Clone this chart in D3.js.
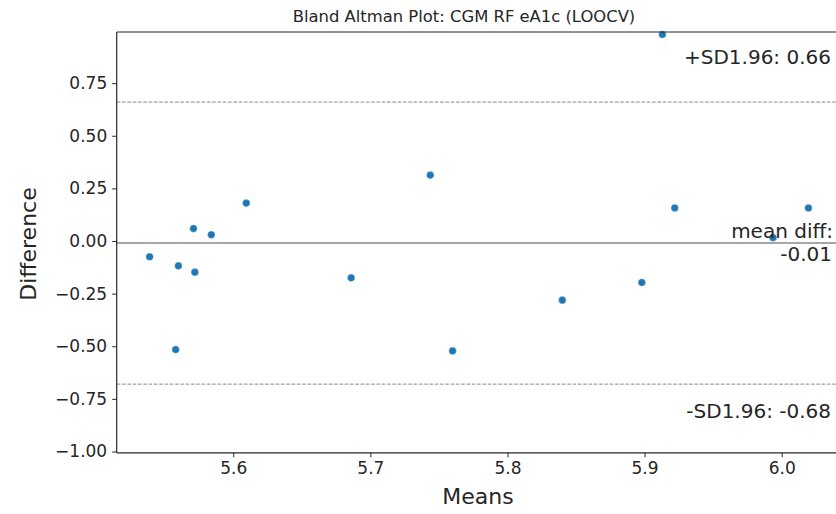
<!DOCTYPE html>
<html>
<head>
<meta charset="utf-8">
<script src="https://cdn.jsdelivr.net/npm/d3@7"></script>
<style>
  html, body { margin: 0; padding: 0; background: #ffffff; }
  svg { display: block; font-family: "DejaVu Sans", sans-serif; }
</style>
</head>
<body>
<svg id="chart" width="836" height="514"></svg>
<script>
// ---- data ----
const means = [5.539, 5.558, 5.560, 5.571, 5.572, 5.584, 5.6095, 5.686,
               5.7437, 5.760, 5.840, 5.898, 5.913, 5.922, 5.9937, 6.0195];
const diffs = [-0.075, -0.516, -0.118, 0.059, -0.148, 0.030, 0.180, -0.175,
               0.313, -0.522, -0.281, -0.197, 0.981, 0.157, 0.016, 0.157];
const meanDiff = -0.01;
const upperLoA = 0.66;
const lowerLoA = -0.68;
const xTicks = [5.6, 5.7, 5.8, 5.9, 6.0];
const yTicks = [-1.0, -0.75, -0.5, -0.25, 0.0, 0.25, 0.5, 0.75];
const titleText = "Bland Altman Plot: CGM RF eA1c (LOOCV)";
const xLabel = "Means";
const yLabel = "Difference";

(function () {
// ---- layout ----
const svg = d3.select("#chart");
const pL = 116.7, pR = 842, pT = 32, pB = 452.8;
const x = d3.scaleLinear().domain([5.515, 6.044]).range([pL, pR]);
const y = d3.scaleLinear().domain([-1.0, 1.0]).range([451.5, 30.5]);

const ink = "#262626";

// reference lines
svg.append("line")
  .attr("x1", pL).attr("x2", pR)
  .attr("y1", y(meanDiff)).attr("y2", y(meanDiff))
  .attr("stroke", "#8a8a8a").attr("stroke-width", 1.5);
[upperLoA, lowerLoA].forEach(v => {
  svg.append("line")
    .attr("x1", pL).attr("x2", pR)
    .attr("y1", y(v)).attr("y2", y(v))
    .attr("stroke", "#8a8a8a").attr("stroke-width", 1)
    .attr("stroke-dasharray", "3.7,1.6");
});

// points
svg.append("g").selectAll("circle")
  .data(means.map((m, i) => ({m, d: diffs[i]})))
  .join("circle")
  .attr("cx", p => x(p.m))
  .attr("cy", p => y(p.d))
  .attr("r", 3.8)
  .attr("fill", "#1f77b4")
  .attr("stroke", "#ffffff")
  .attr("stroke-width", 0.4);

// axes
const xAxis = d3.axisBottom(x).tickValues(xTicks).tickFormat(d3.format(".1f"))
  .tickSize(4.5).tickPadding(5);
const yAxis = d3.axisLeft(y).tickValues(yTicks)
  .tickFormat(d => (d < 0 ? "\u2212" : "") + d3.format(".2f")(Math.abs(d)))
  .tickSize(4.5).tickPadding(5);

const gx = svg.append("g").attr("transform", `translate(0,${pB})`).call(xAxis);
const gy = svg.append("g").attr("transform", `translate(${pL},0)`).call(yAxis);
[gx, gy].forEach(g => {
  g.select(".domain").remove();
  g.selectAll(".tick line").attr("stroke", ink).attr("stroke-width", 1);
  g.selectAll(".tick text").attr("fill", ink).style("font-size", "17px")
    .style("font-family", "'DejaVu Sans', sans-serif");
});

// spines
svg.append("line").attr("x1", pL).attr("x2", pL).attr("y1", pT).attr("y2", pB)
  .attr("stroke", ink).attr("stroke-width", 1.2);
svg.append("line").attr("x1", pL).attr("x2", pR).attr("y1", pB).attr("y2", pB)
  .attr("stroke", ink).attr("stroke-width", 1.2);
svg.append("line").attr("x1", pL).attr("x2", pR).attr("y1", pT).attr("y2", pT)
  .attr("stroke", ink).attr("stroke-width", 1.2);

// annotations
const annX = 831;
const annSize = "20px";
svg.append("text").attr("x", annX).attr("y", y(upperLoA) - 38)
  .attr("text-anchor", "end").attr("fill", ink).style("font-size", annSize)
  .text("+SD1.96: " + upperLoA.toFixed(2));
svg.append("text").attr("x", annX).attr("y", y(lowerLoA) + 34)
  .attr("text-anchor", "end").attr("fill", ink).style("font-size", annSize)
  .text("-SD1.96: " + lowerLoA.toFixed(2));
svg.append("text").attr("x", annX + 2).attr("y", y(meanDiff) - 5)
  .attr("text-anchor", "end").attr("fill", ink).style("font-size", annSize)
  .text("mean diff:");
svg.append("text").attr("x", annX + 1).attr("y", y(meanDiff) + 18)
  .attr("text-anchor", "end").attr("fill", ink).style("font-size", annSize)
  .text(meanDiff.toFixed(2));

// title & labels
svg.append("text").attr("x", 464).attr("y", 22)
  .attr("text-anchor", "middle").attr("fill", ink).style("font-size", "16.4px")
  .text(titleText);
svg.append("text").attr("x", 478).attr("y", 504)
  .attr("text-anchor", "middle").attr("fill", ink).style("font-size", "22px")
  .text(xLabel);
svg.append("text")
  .attr("transform", `translate(36,244) rotate(-90)`)
  .attr("text-anchor", "middle").attr("fill", ink).style("font-size", "22px")
  .text(yLabel);
})();
</script>
</body>
</html>
